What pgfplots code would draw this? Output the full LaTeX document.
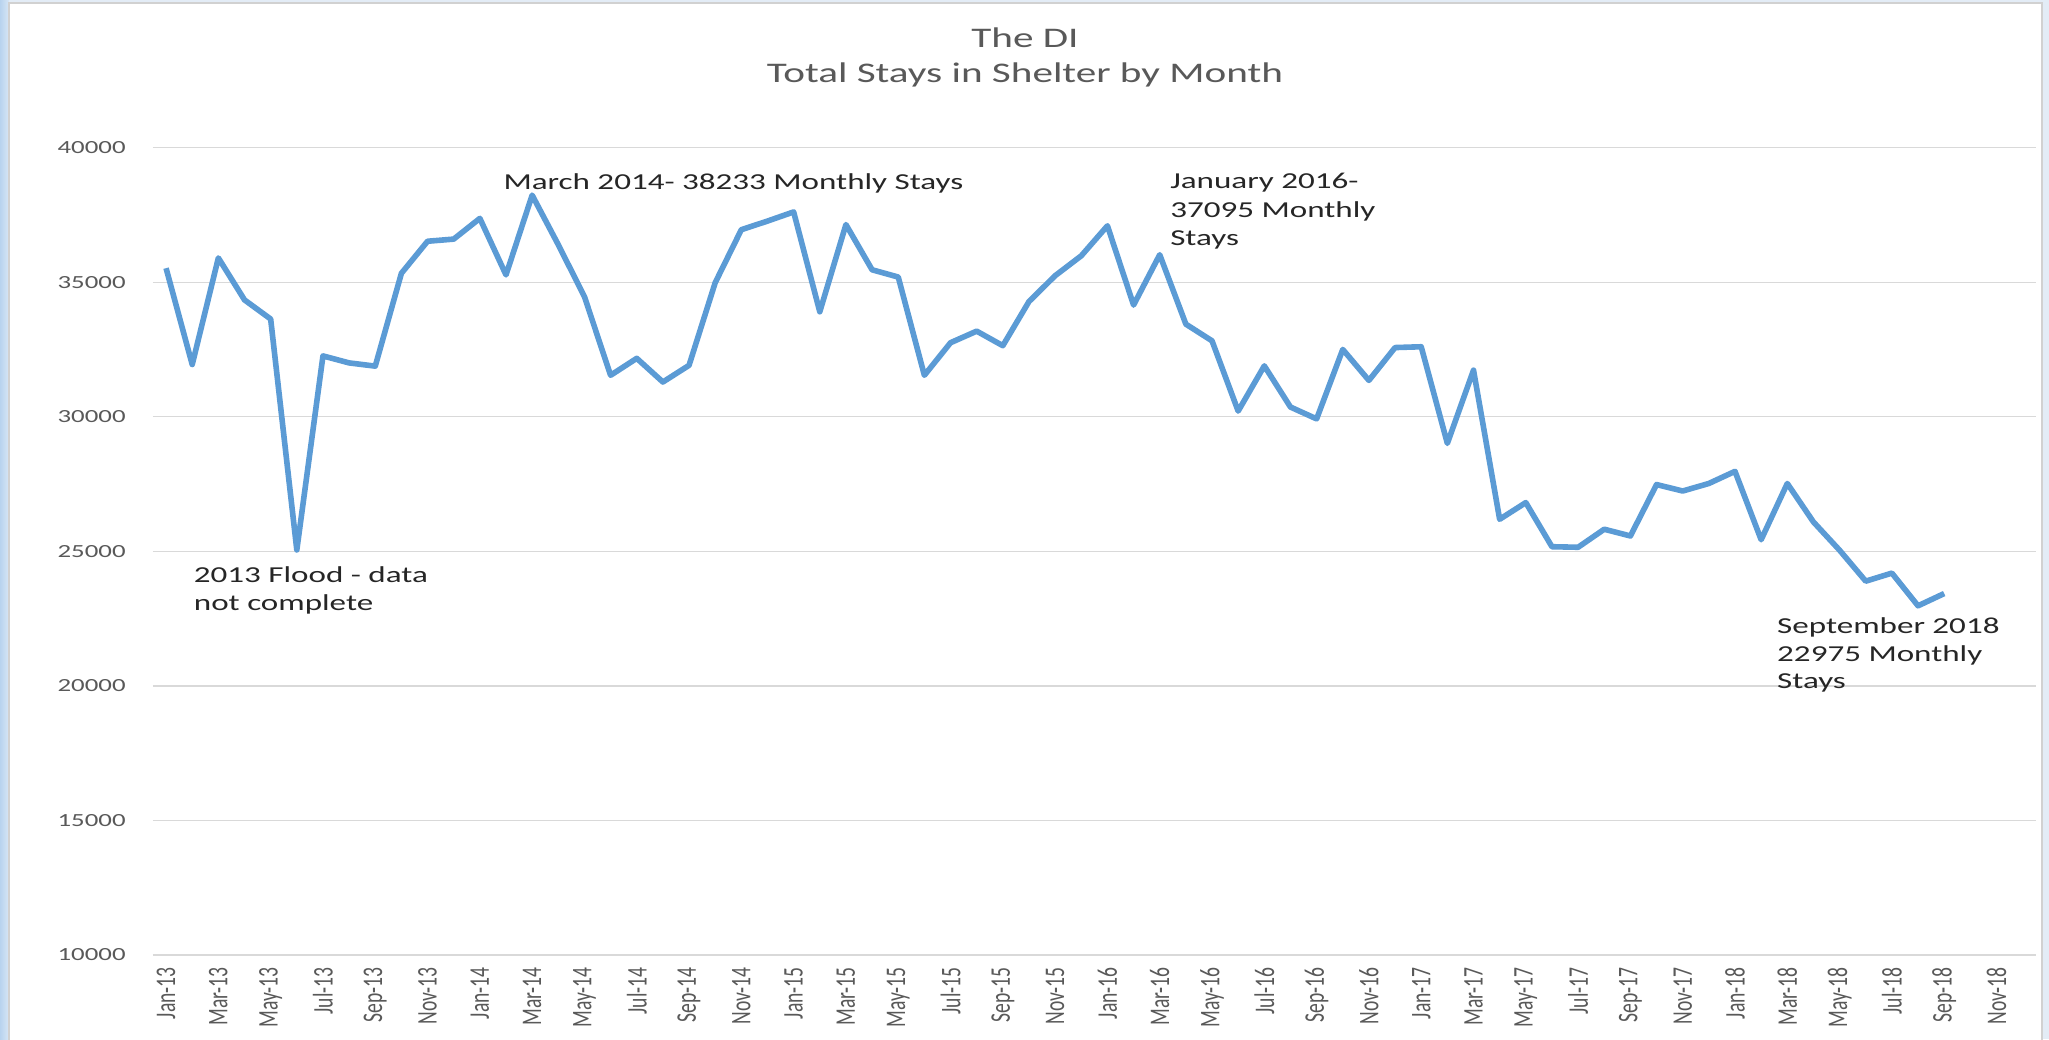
\documentclass[border=0pt]{standalone}
\usepackage{graphicx}
\usepackage{pgfplots}
\pgfplotsset{compat=1.18}
\usepackage{fontspec}
\setmainfont{Carlito}[FakeStretch=1.45]
\newfontfamily\plainfont{Carlito}
\definecolor{lineblue}{HTML}{5B9BD5}
\definecolor{gridgray}{HTML}{D9D9D9}
\definecolor{labgray}{HTML}{595959}
\definecolor{framebl}{HTML}{E3ECF6}
\definecolor{stripbl}{HTML}{B8D3EE}
\newcommand{\xl}[1]{\scalebox{1}[1.45]{\plainfont #1}}
\pgfplotstableread{
i v
0 35520
1 31940
2 35900
3 34340
4 33630
5 25050
6 32260
7 32000
8 31880
9 35330
10 36520
11 36600
12 37370
13 35270
14 38233
15 36390
16 34460
17 31540
18 32170
19 31290
20 31910
21 34980
22 36950
23 37270
24 37610
25 33900
26 37140
27 35460
28 35190
29 31540
30 32750
31 33180
32 32640
33 34280
34 35240
35 35980
36 37095
37 34150
38 36020
39 33440
40 32820
41 30210
42 31890
43 30360
44 29920
45 32500
46 31350
47 32570
48 32600
49 29010
50 31730
51 26190
52 26810
53 25170
54 25150
55 25820
56 25570
57 27480
58 27240
59 27520
60 27970
61 25430
62 27520
63 26090
64 25040
65 23890
66 24190
67 22975
68 23430
}\stays
\begin{document}
\begin{tikzpicture}
\path[use as bounding box] (-76.5pt,-42pt) rectangle (948pt,477.5pt);
\fill[framebl] (-76.5pt,-42pt) rectangle (948pt,477.5pt);
\shade[left color=stripbl, right color=stripbl!55] (-76.5pt,-42pt) rectangle (-72pt,477.5pt);
\draw[fill=white, draw=black!18, line width=0.8pt] (-72pt,-45pt) rectangle (944.5pt,476pt);
\begin{axis}[
  at={(0pt,0pt)}, anchor=south west,
  scale only axis, width=941.35pt, height=403.7pt,
  xmin=-0.5, xmax=71.5, ymin=10000, ymax=40000,
  axis line style={draw=none},
  clip=false,
  scaled y ticks=false,
  ytick={10000,15000,...,40000},
  ymajorgrids, major grid style={gridgray, line width=0.65pt},
  xtick={0,2,...,70},
  xticklabels={\xl{Jan-13},\xl{Mar-13},\xl{May-13},\xl{Jul-13},\xl{Sep-13},\xl{Nov-13},
    \xl{Jan-14},\xl{Mar-14},\xl{May-14},\xl{Jul-14},\xl{Sep-14},\xl{Nov-14},
    \xl{Jan-15},\xl{Mar-15},\xl{May-15},\xl{Jul-15},\xl{Sep-15},\xl{Nov-15},
    \xl{Jan-16},\xl{Mar-16},\xl{May-16},\xl{Jul-16},\xl{Sep-16},\xl{Nov-16},
    \xl{Jan-17},\xl{Mar-17},\xl{May-17},\xl{Jul-17},\xl{Sep-17},\xl{Nov-17},
    \xl{Jan-18},\xl{Mar-18},\xl{May-18},\xl{Jul-18},\xl{Sep-18},\xl{Nov-18}},
  major tick length=0pt,
  tick label style={text=labgray},
  yticklabel style={font=\fontsize{9.25}{11}\selectfont, inner sep=0pt, anchor=east},
  yticklabel shift=13.5pt,
  xticklabel style={font=\fontsize{9.8}{11}\selectfont, rotate=90, anchor=east, inner sep=0pt},
  xticklabel shift=6pt,
  /pgf/number format/.cd, 1000 sep={}, assume math mode=true
]
\addplot[lineblue, line width=2.8pt, line join=round, mark=none] table[x=i, y=v] {\stays};
\begin{scope}[every node/.style={anchor=base west, inner sep=0pt, text=black!85, font=\fontsize{11.4}{14}\selectfont}]
\node at (axis cs:12.89,38461) {March 2014- 38233 Monthly Stays};
\node at (axis cs:38.39,38498) {January 2016-};
\node at (axis cs:38.39,37421) {37095 Monthly};
\node at (axis cs:38.39,36344) {Stays};
\node at (axis cs:1.05,23859) {2013 Flood - data};
\node at (axis cs:1.05,22782) {not complete};
\node at (axis cs:61.6,21964) {September 2018};
\node at (axis cs:61.6,20924) {22975 Monthly};
\node at (axis cs:61.6,19920) {Stays};
\end{scope}
\end{axis}
\node[anchor=base, inner sep=0pt, text=labgray, font=\fontsize{14.2}{17}\selectfont] at (436pt,453.5pt) {The DI};
\node[anchor=base, inner sep=0pt, text=labgray, font=\fontsize{14.2}{17}\selectfont] at (436pt,436pt) {Total Stays in Shelter by Month};
\end{tikzpicture}
\end{document}
